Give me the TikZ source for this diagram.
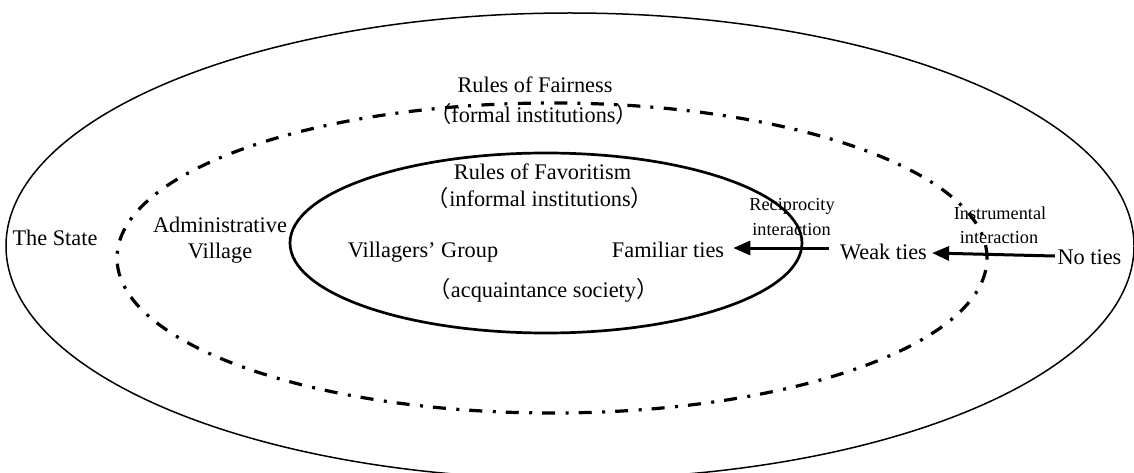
\documentclass[tikz,border=0pt]{standalone}
\usepackage{fontspec}
\setmainfont{Liberation Serif}
\newfontfamily\cjk{Noto Sans CJK SC}
\usetikzlibrary{arrows.meta}
\tikzset{
  lbl/.style={inner sep=0pt, anchor=base, font=\fontsize{22.3}{26}\selectfont},
  sml/.style={inner sep=0pt, anchor=base, font=\fontsize{18.3}{22}\selectfont},
  outerring/.style={line width=1.5pt},
  midring/.style={line width=3.2pt, dash pattern=on 13pt off 10.5pt on 3pt off 10pt},
  innerring/.style={line width=2.7pt},
  arr/.style={line width=3pt, -{Triangle[length=17pt,width=14pt]}}
}
\begin{document}
\begin{tikzpicture}[x=1pt,y=-1pt]
\useasboundingbox (0,0) rectangle (1134,473);
\fill[white] (0,0) rectangle (1134,473);
\clip (0,0) rectangle (1134,473);
% rings
\draw[outerring] (570,246) ellipse [x radius=564pt, y radius=233pt];
\draw[midring] (552,258) ellipse [x radius=435pt, y radius=155pt];
\draw[innerring] (546,243) ellipse [x radius=256pt, y radius=90pt];
% labels
\node[lbl] (fair) at (535,93) {Rules of Fairness};
\node[lbl] (formal) at (533.5,123) {{\cjk （}formal institutions{\cjk ）}};
\node[lbl] (favor) at (542.5,179) {Rules of Favoritism};
\node[lbl] (informal) at (540,206) {{\cjk （}informal institutions{\cjk ）}};
\node[lbl] (villagers) at (423,257) {Villagers’ Group};
\node[lbl] (familiar) at (668,257) {Familiar ties};
\node[lbl] (acq) at (543.5,297) {{\cjk （}acquaintance society{\cjk ）}};
\node[lbl] (state) at (55,245) {The State};
\node[lbl] (admin1) at (220,232) {Administrative};
\node[lbl] (admin2) at (220,258) {Village};
\node[sml] (recip1) at (792,211) {Reciprocity};
\node[sml] (recip2) at (791.5,235) {interaction};
\node[lbl] (weak) at (883.5,259) {Weak ties};
\node[sml] (instr1) at (1000,219) {Instrumental};
\node[sml] (instr2) at (999,243) {interaction};
\node[lbl] (noties) at (1089.5,264) {No ties};
% arrows
\draw[arr] ([shift={(-11,-11)}]weak.base west) -- ([shift={(9,-9)}]familiar.base east);
\draw[arr] ([shift={(-2.5,-8)}]noties.base west) -- ([shift={(5,-6)}]weak.base east);
\end{tikzpicture}
\end{document}
